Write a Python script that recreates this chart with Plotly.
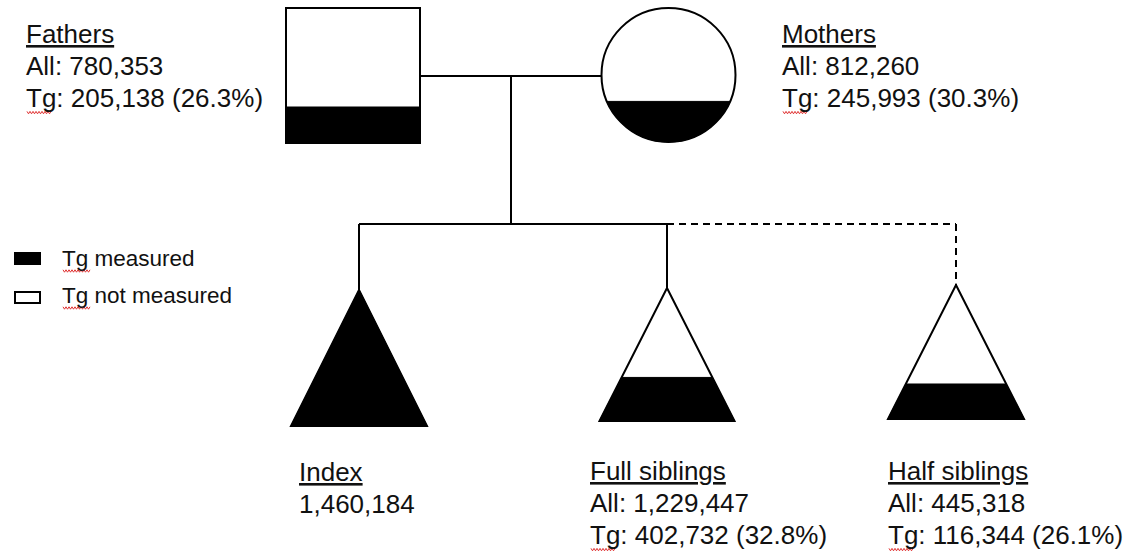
import numpy as np
import plotly.graph_objects as go

# ---------------- data ----------------
groups = ["Fathers", "Mothers", "Index", "Full siblings", "Half siblings"]
all_counts = [780353, 812260, 1460184, 1229447, 445318]
tg_counts = [205138, 245993, 1460184, 402732, 116344]
show_tg = [True, True, False, True, True]
legend_labels = ["Tg measured", "Tg not measured"]

pct = [t / a * 100 for t, a in zip(tg_counts, all_counts)]

W, H = 1133, 553
FONT = "Arial, Liberation Sans, sans-serif"
LW = 2

shapes = []
annotations = []

def line(x0, y0, x1, y1, dash=None):
    d = dict(type="line", x0=x0, y0=y0, x1=x1, y1=y1, xref="x", yref="y",
             line=dict(color="black", width=LW))
    if dash:
        d["line"]["dash"] = dash
    shapes.append(d)

def poly(pts, fill, lw=LW):
    p = "M " + " L ".join(f"{x:.2f},{y:.2f}" for x, y in pts) + " Z"
    shapes.append(dict(type="path", path=p, xref="x", yref="y", fillcolor=fill,
                       line=dict(color="black", width=lw)))

# ---------------- father: square ----------------
sq = dict(x0=286, x1=420, y0=8, y1=143)
shapes.append(dict(type="rect", xref="x", yref="y", fillcolor="white",
                   line=dict(color="black", width=LW), **sq))
fy = sq["y1"] - pct[0] / 100 * (sq["y1"] - sq["y0"])
shapes.append(dict(type="rect", xref="x", yref="y", x0=sq["x0"], x1=sq["x1"],
                   y0=fy, y1=sq["y1"], fillcolor="black",
                   line=dict(color="black", width=LW)))

# ---------------- mother: circle ----------------
cx, cy, r = 668.5, 75, 67
shapes.append(dict(type="circle", xref="x", yref="y", x0=cx - r, x1=cx + r,
                   y0=cy - r, y1=cy + r, fillcolor="white",
                   line=dict(color="black", width=LW)))
yc = cy + r - pct[1] / 100 * 2 * r
th0 = np.arcsin((yc - cy) / r)
th = np.linspace(th0, np.pi - th0, 80)
poly([(cx + r * np.cos(t), cy + r * np.sin(t)) for t in th], "black", lw=1)

# ---------------- connecting lines ----------------
line(sq["x1"], 76, cx - r, 76)
line(511, 76, 511, 224)
line(359, 224, 667, 224)
line(667, 224, 956, 224, dash="7px,5px")
line(956, 224, 956, 285, dash="7px,5px")
line(359, 224, 359, 290)
line(667, 224, 667, 288)

# ---------------- children: triangles ----------------
tris = [  # apex x, apex y, base y, half width
    (359, 290, 426, 68),
    (667, 288, 421, 67.5),
    (956, 285, 419, 68),
]
for (ax, ay, by, hw), p in zip(tris, pct[2:]):
    Ht = by - ay
    poly([(ax, ay), (ax + hw, by), (ax - hw, by)], "white")
    yt = by - p / 100 * Ht
    hwt = hw * (yt - ay) / Ht
    poly([(ax - hwt, yt), (ax + hwt, yt), (ax + hw, by), (ax - hw, by)], "black", lw=1)

# ---------------- text ----------------
FS = 26
def text(x, baseline, s, size=FS):
    annotations.append(dict(x=x, y=baseline - 0.36 * size, xref="x", yref="y",
                            text=s, showarrow=False, xanchor="left", yanchor="middle",
                            font=dict(family=FONT, size=size, color="#111111")))

def squiggle(x0, x1, y):
    xs = np.arange(x0, x1 + 0.1, 1.5)
    pts = " L ".join(f"{x:.1f},{y + (1.2 if i % 2 else -1.2):.1f}" for i, x in enumerate(xs))
    shapes.append(dict(type="path", path="M " + pts, xref="x", yref="y",
                       line=dict(color="#e03030", width=1)))

label_pos = [(24, 43), (780, 43), (297, 481), (588, 480), (886, 480)]
LS = 32.3
for g, a, t, p, show, (x, b) in zip(groups, all_counts, tg_counts, pct, show_tg, label_pos):
    text(x, b, f"<u>{g}</u>")
    if show:
        text(x, b + LS, f"All: {a:,}")
        text(x, b + 2 * LS, f"Tg: {t:,} ({p:.1f}%)")
        squiggle(x + 3, x + 28, b + 2 * LS + 5)
    else:
        text(x, b + LS, f"{a:,}")

# ---------------- legend ----------------
shapes.append(dict(type="rect", xref="x", yref="y", x0=15, x1=40, y0=253, y1=264,
                   fillcolor="black", line=dict(color="black", width=LW)))
shapes.append(dict(type="rect", xref="x", yref="y", x0=15, x1=40, y0=292, y1=303,
                   fillcolor="white", line=dict(color="black", width=LW)))
for lab, b in zip(legend_labels, [267, 304]):
    text(60, b, lab, size=22.5)
    squiggle(63, 90, b + 4)

fig = go.Figure()
fig.update_layout(
    width=W, height=H, margin=dict(l=0, r=0, t=0, b=0),
    paper_bgcolor="white", plot_bgcolor="white",
    xaxis=dict(range=[0, W], visible=False, fixedrange=True),
    yaxis=dict(range=[H, 0], visible=False, fixedrange=True),
    shapes=shapes, annotations=annotations, showlegend=False,
)
fig.write_html(
    "out.html",
    config={"displayModeBar": False},
    post_script="document.body.style.margin='0';document.body.style.overflow='hidden';",
)
